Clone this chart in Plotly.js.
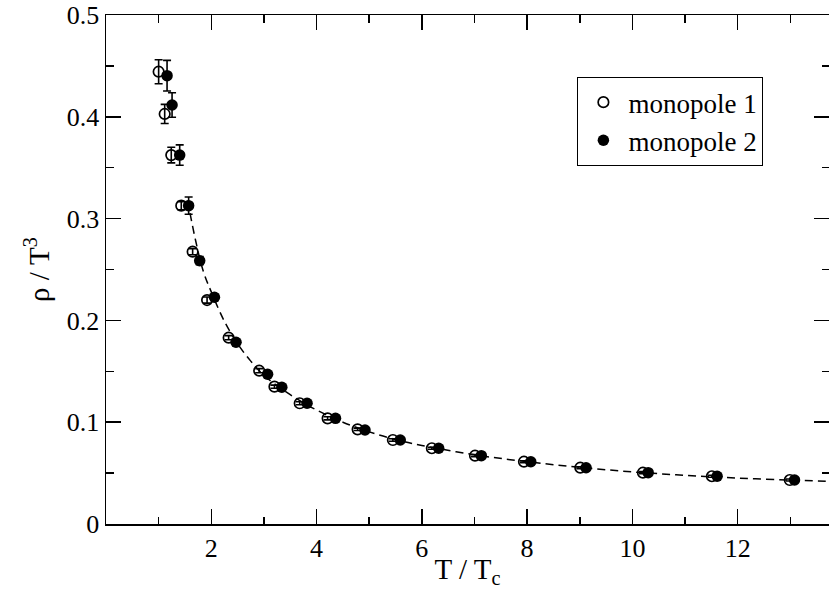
<!DOCTYPE html>
<html>
<head>
<meta charset="utf-8">
<script src="https://cdn.plot.ly/plotly-3.0.1.min.js"></script>
<style>html,body{margin:0;padding:0;background:#fff;}#chart{width:829px;height:589px;}</style>
</head>
<body>
<div id="chart"></div>
<script>
// monopole 1 (open circles)
const T1   = [1.00, 1.115, 1.24, 1.43, 1.646, 1.92, 2.33, 2.91, 3.20, 3.68, 4.21, 4.78, 5.45, 6.19, 7.01, 7.94, 9.01, 10.20, 11.51, 12.99];
const rho1 = [0.4443, 0.4028, 0.3624, 0.3127, 0.2675, 0.2200, 0.1830, 0.1506, 0.1349, 0.1186, 0.1038, 0.0930, 0.0825, 0.0744, 0.0671, 0.0612, 0.0553, 0.0504, 0.0469, 0.0432];
const err1 = [0.0118, 0.0094, 0.0077, 0.004, 0.003, 0.003, 0.002, 0.002, 0.0015, 0.0015, 0.0015, 0.0012, 0.0012, 0.001, 0.001, 0.001, 0.001, 0.001, 0.001, 0.001];
// monopole 2 (filled circles)
const T2   = [1.16, 1.255, 1.40, 1.57, 1.78, 2.06, 2.47, 3.07, 3.34, 3.82, 4.36, 4.92, 5.59, 6.32, 7.13, 8.07, 9.12, 10.30, 11.61, 13.08];
const rho2 = [0.4404, 0.4116, 0.3624, 0.3127, 0.2586, 0.2227, 0.1785, 0.1471, 0.1343, 0.1186, 0.1038, 0.0923, 0.0825, 0.0744, 0.0671, 0.0612, 0.0553, 0.0504, 0.0469, 0.0432];
const err2 = [0.015, 0.012, 0.010, 0.0085, 0.004, 0.003, 0.002, 0.002, 0.0015, 0.0015, 0.0015, 0.0012, 0.0012, 0.001, 0.001, 0.001, 0.001, 0.001, 0.001, 0.001];
// dashed fit curve
const fitT   = [1.55, 1.7, 1.85, 2.0, 2.25, 2.5, 2.75, 3.0, 3.5, 4.0, 4.5, 5.0, 5.5, 6.0, 7.0, 8.0, 9.0, 10.0, 11.0, 12.0, 13.0, 13.75];
const fitRho = [0.318, 0.279, 0.248, 0.228, 0.199, 0.177, 0.160, 0.146, 0.127, 0.112, 0.100, 0.0905, 0.0830, 0.0772, 0.0680, 0.0612, 0.0557, 0.0512, 0.0478, 0.0451, 0.0432, 0.0418];
// ticks
const xTicks = [2, 4, 6, 8, 10, 12];
const xMinor = [1, 3, 5, 7, 9, 11, 13];
const yTicks = [0, 0.1, 0.2, 0.3, 0.4, 0.5];
const yTickText = ['0', '0.1', '0.2', '0.3', '0.4', '0.5'];
const yMinor = [0.05, 0.15, 0.25, 0.35, 0.45];

const FONT = "'Liberation Serif', 'Times New Roman', serif";

const traces = [
  {x: fitT, y: fitRho, mode: 'lines', type: 'scatter', showlegend: false, hoverinfo: 'skip',
   line: {color: '#000', width: 1.5, dash: '8px,5px', shape: 'spline', smoothing: 1}},
  {x: T1, y: rho1, mode: 'markers', type: 'scatter', name: 'monopole 1',
   marker: {symbol: 'circle-open', size: 10.5, color: '#000', line: {color: '#000', width: 1.7}},
   error_y: {type: 'data', array: err1, visible: true, color: '#000', thickness: 1.6, width: 4}},
  {x: T2, y: rho2, mode: 'markers', type: 'scatter', name: 'monopole 2',
   marker: {symbol: 'circle', size: 11.5, color: '#000'},
   error_y: {type: 'data', array: err2, visible: true, color: '#000', thickness: 1.6, width: 4}}
];

const axisCommon = {
  showline: true, linecolor: '#000', linewidth: 1.5, mirror: 'ticks',
  ticks: 'inside', ticklen: 15, tickwidth: 1.5, tickcolor: '#000',
  showgrid: false, zeroline: false,
  tickfont: {family: FONT, size: 26, color: '#000'}
};

const layout = {
  width: 829, height: 589,
  margin: {l: 106, r: 0, t: 15, b: 65, pad: 0},
  paper_bgcolor: '#fff', plot_bgcolor: '#fff',
  font: {family: FONT, color: '#000'},
  xaxis: Object.assign({}, axisCommon, {
    range: [0, 13.735], tickmode: 'array', tickvals: xTicks,
    minor: {tickmode: 'array', tickvals: xMinor, ticks: 'inside', ticklen: 7.5, tickwidth: 1.5, tickcolor: '#000'},
    title: {text: 'T / T<sub>c</sub>', font: {family: FONT, size: 29, color: '#000'}, standoff: 0}
  }),
  yaxis: Object.assign({}, axisCommon, {
    range: [0, 0.5], tickmode: 'array', tickvals: yTicks, ticktext: yTickText,
    minor: {tickmode: 'array', tickvals: yMinor, ticks: 'inside', ticklen: 7.5, tickwidth: 1.5, tickcolor: '#000'},
    title: {text: 'ρ / T<sup>3</sup>', font: {family: FONT, size: 29, color: '#000'}, standoff: 8}
  }),
  legend: {
    x: 0.652, y: 0.878, xanchor: 'left', yanchor: 'top',
    bgcolor: '#fff', bordercolor: '#000', borderwidth: 1,
    font: {family: FONT, size: 27, color: '#000'},
    itemwidth: 40, tracegroupgap: 0
  },
  showlegend: true
};

Plotly.newPlot('chart', traces, layout, {displayModeBar: false, staticPlot: true});
</script>
</body>
</html>
